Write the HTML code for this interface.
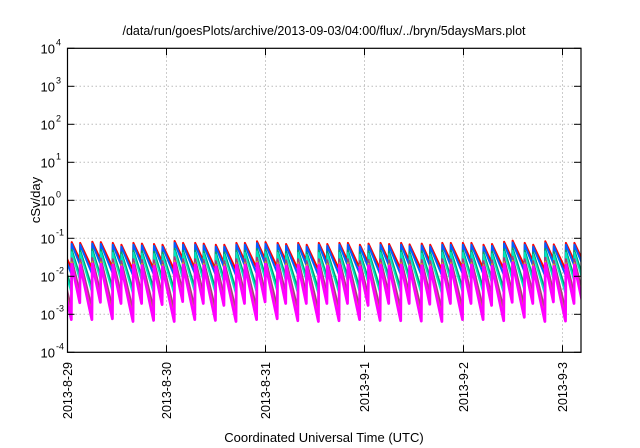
<!DOCTYPE html>
<html><head><meta charset="utf-8"><style>
body{margin:0;background:#fff}
svg{display:block;font-family:"Liberation Sans",sans-serif}
</style></head><body>
<svg id="chart" width="640" height="448" viewBox="0 0 640 448">
<text x="324" y="35" text-anchor="middle" font-size="12.5">/data/run/goesPlots/archive/2013-09-03/04:00/flux/../bryn/5daysMars.plot</text>
<text transform="translate(40,200) rotate(-90)" text-anchor="middle" font-size="13">cSv/day</text>
<text x="324" y="442" text-anchor="middle" font-size="13">Coordinated Universal Time (UTC)</text>
<defs><clipPath id="pc"><rect x="67.5" y="48" width="513.5" height="304"/></clipPath></defs>
<g id="grid"></g>
<g id="series" clip-path="url(#pc)"></g>
<g id="axes"></g>
</svg>
<script>
const xTickLabels=["2013-8-29","2013-8-30","2013-8-31","2013-9-1","2013-9-2","2013-9-3"];
const xTickDays=[0,1,2,3,4,5];
const yTickExps=[-4,-3,-2,-1,0,1,2,3,4];
const peakTimes=[-0.08,0.042,0.128,0.250,0.336,0.458,0.544,0.666,0.752,0.874,0.960,1.082,1.168,1.290,1.376,1.498,1.584,1.706,1.792,1.914,2.000,2.122,2.208,2.330,2.416,2.538,2.624,2.746,2.832,2.954,3.040,3.162,3.248,3.370,3.456,3.578,3.664,3.786,3.872,3.994,4.080,4.202,4.288,4.410,4.496,4.618,4.704,4.826,4.912,5.034,5.120,5.242];
const peakOffsets=[0,0.02,0.0,0.03,0.02,0.0,-0.05,0.0,-0.02,-0.03,-0.05,0.05,0.0,0.0,-0.02,-0.05,-0.05,0.0,0.0,0.04,0.02,0.0,-0.03,0.0,-0.05,0.0,-0.03,0.0,0.0,-0.05,-0.02,0.0,-0.03,0.0,-0.04,-0.02,-0.05,0.0,0.0,0.0,0.0,-0.05,-0.03,0.03,0.06,0.0,-0.05,0.04,-0.04,0.0,0.0,0.0];
const seriesColors=["#ff0000","#0060ff","#00a070","#00e8c0","#a04080","#e0c000","#ff00ff"];
const seriesPeakLog=[-1.12,-1.17,-1.32,-1.38,-1.55,-1.65,-1.7];
const seriesDecay=[5.4,6.2,8.0,8.6,10.5,11.2,11.8];
const seriesWidth=[2,2,2,1.6,2,1.6,2.8];

const L=67.5,R=581,T=48.3,B=352.3,DAY=99;
const xs=d=>L+d*DAY;
const ys=lg=>B-(lg+4)*38;
const NS="http://www.w3.org/2000/svg";
function mk(tag,attrs,parent){const e=document.createElementNS(NS,tag);for(const k in attrs)e.setAttribute(k,attrs[k]);parent.appendChild(e);return e;}
const grid=document.getElementById('grid'),axes=document.getElementById('axes'),ser=document.getElementById('series');

yTickExps.forEach(e=>{
  const y=ys(e);
  if(e>-4&&e<4){const g=mk('line',{x1:L,x2:R,y1:y,y2:y,stroke:'#bbb','stroke-width':1,'stroke-dasharray':'1.5,2.5'},grid);
  
  }
  mk('line',{x1:L,x2:L+7,y1:y,y2:y,stroke:'#000','stroke-width':1},axes);
  mk('line',{x1:R-7,x2:R,y1:y,y2:y,stroke:'#000','stroke-width':1},axes);
  const t=mk('text',{x:55,y:y+5,'text-anchor':'end','font-size':13},axes);
  
  
  t.textContent='10';
  const s=mk('text',{x:56,y:y-3,'font-size':9},axes);
  
  
  s.textContent=String(e);
});
xTickDays.forEach((d,i)=>{
  const x=xs(d);
  if(d>0){const g=mk('line',{x1:x,x2:x,y1:T,y2:B,stroke:'#bbb','stroke-width':1,'stroke-dasharray':'1.5,2.5'},grid);
  
  }
  mk('line',{x1:x,x2:x,y1:B-7,y2:B,stroke:'#000','stroke-width':1},axes);
  mk('line',{x1:x,x2:x,y1:T,y2:T+7,stroke:'#000','stroke-width':1},axes);
  const t=mk('text',{transform:`translate(${x+4.5},362) rotate(-90)`,'text-anchor':'end','font-size':12.5},axes);
  
  
  t.textContent=xTickLabels[i];
});
const frame=mk('rect',{x:L,y:T,width:R-L,height:B-T,fill:'none',stroke:'#000','stroke-width':1.2},axes);



seriesColors.forEach((c,si)=>{
  let pts=[];
  for(let i=0;i<peakTimes.length;i++){
    const t0=peakTimes[i],t1=i+1<peakTimes.length?peakTimes[i+1]:5.4;
    const p=seriesPeakLog[si]+peakOffsets[i];
    const low=p-seriesDecay[si]*(t1-t0);
    pts.push(xs(t0).toFixed(1)+','+ys(p).toFixed(1));
    pts.push(xs(t1-0.004).toFixed(1)+','+ys(low).toFixed(1));
  }
  const pl=mk('polyline',{points:pts.join(' '),fill:'none',stroke:c,'stroke-width':seriesWidth[si],'stroke-linejoin':'round'},ser);
  
  
});
</script>
</body></html>
